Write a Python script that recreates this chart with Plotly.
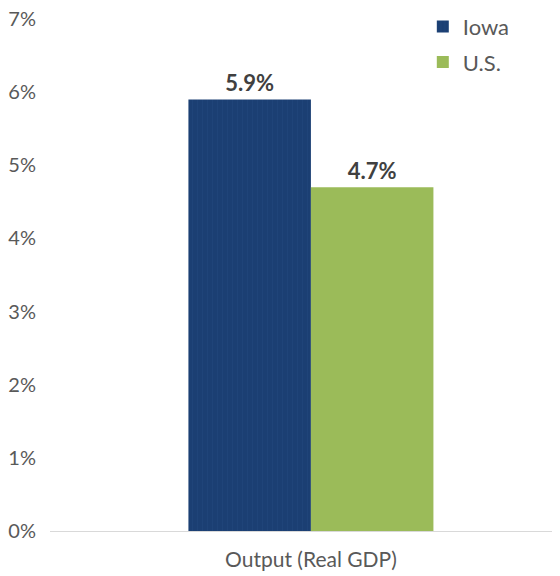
import plotly.graph_objects as go

categories = ["Output (Real GDP)"]
iowa_values = [5.9]
us_values = [4.7]
y_ticks = [0, 1, 2, 3, 4, 5, 6, 7]
y_tick_labels = ["0%", "1%", "2%", "3%", "4%", "5%", "6%", "7%"]

label_font = dict(size=22, color="#404040", family="Lato", weight="bold")

fig = go.Figure()
fig.add_trace(go.Bar(
    name="Iowa", x=categories, y=iowa_values, legendgroup="a",
    marker=dict(color="#1B3F73", line=dict(width=0),
                pattern=dict(shape="|", fgcolor="#264C82", size=5, solidity=0.15)),
    text=[f"{v:.1f}%" for v in iowa_values], textposition="outside",
    textfont=label_font, cliponaxis=False,
))
fig.add_trace(go.Bar(
    name="U.S.", x=categories, y=us_values, legendgroup="b",
    marker=dict(color="#9BBB59", line=dict(width=0)),
    text=[f"{v:.1f}%" for v in us_values], textposition="outside",
    textfont=label_font, cliponaxis=False,
))

fig.update_layout(
    width=552, height=568,
    margin=dict(l=42, r=0, t=11, b=45, autoexpand=False),
    paper_bgcolor="white", plot_bgcolor="white",
    barmode="group", bargap=0.4, bargroupgap=0,
    font=dict(family="Lato", color="#595959", size=21),
    showlegend=True,
    legend=dict(x=0.731, y=1.026, xanchor="left", yanchor="top",
                font=dict(size=22, color="#595959"), tracegroupgap=4,
                itemwidth=30, bgcolor="rgba(0,0,0,0)"),
    xaxis=dict(range=[-0.639, 0.610], showgrid=False, showline=True,
               linecolor="#D9D9D9", linewidth=1, ticks="", automargin=False,
               tickfont=dict(size=21, color="#595959"), ticklabelstandoff=10),
    yaxis=dict(range=[0, 7], tickvals=y_ticks, ticktext=y_tick_labels,
               showgrid=False, zeroline=False, showline=False, automargin=False,
               ticklabeloverflow="allow",
               tickfont=dict(size=20, color="#595959"), ticklabelstandoff=13),
)
fig.write_html("out.html")
